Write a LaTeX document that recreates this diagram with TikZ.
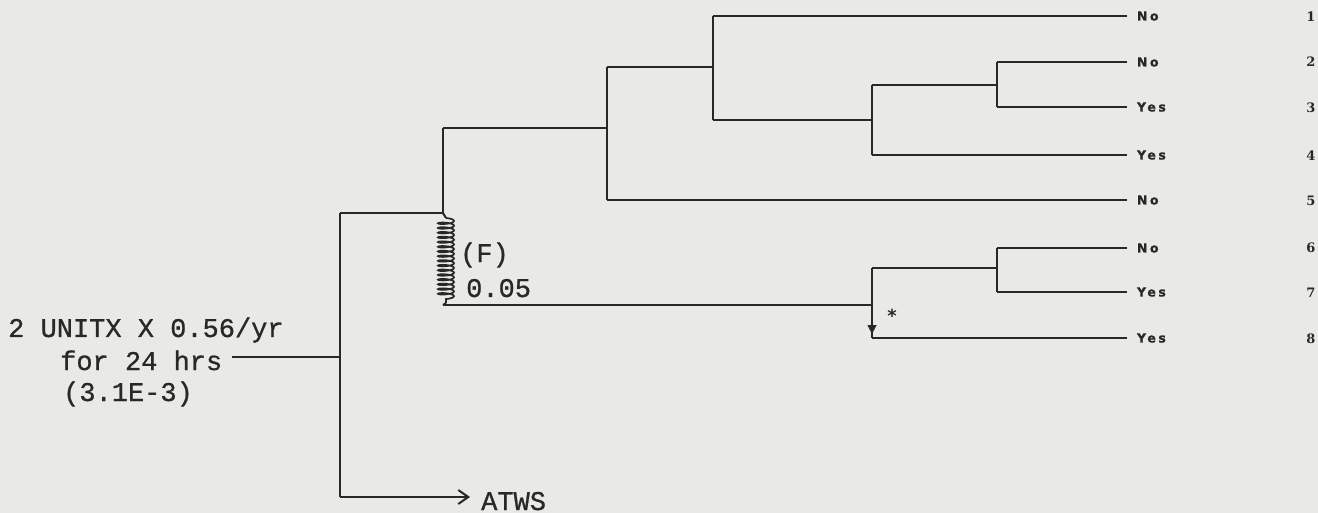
\documentclass[tikz,border=0pt]{standalone}
\usepackage{fontspec}
\newfontfamily\twfont{Liberation Mono}[FakeBold=0.8]
\newfontfamily\lblfont{DejaVu Sans Bold}[LetterSpace=20,FakeBold=1]
\newfontfamily\numfont{DejaVu Serif Bold}
\newfontfamily\starfont{DejaVu Sans Bold}
\usetikzlibrary{arrows.meta,decorations.pathmorphing}
\definecolor{bg}{RGB}{233,233,230}
\definecolor{ink}{RGB}{40,40,40}
\begin{document}
\begin{tikzpicture}[x=1pt,y=-1pt,
  branch/.style={draw=ink,line width=2pt},
  tw/.style={font=\twfont\fontsize{27}{32}\selectfont,text=ink,inner sep=0pt,anchor=base west},
  lbl/.style={font=\lblfont\fontsize{12.5}{14}\selectfont,text=ink,inner sep=0pt,outer xsep=10pt,anchor=west},
  num/.style={font=\numfont\fontsize{13}{16}\selectfont,text=ink,inner sep=0pt},
  springline/.style={draw=ink,line width=1.7pt,decorate,decoration={coil,amplitude=8pt,segment length=4.7pt,aspect=0.22}}]
\fill[bg] (0,0) rectangle (1318,513);
\useasboundingbox (0,0) rectangle (1318,513);

% input text
\node[tw] (in1) at (8,337) {2 UNITX X 0.56/yr};
\node[tw] (in2) at (60,370) {for 24 hrs};
\node[tw] (in3) at (63,401) {(3.1E-3)};

% junction coordinates
\coordinate (A) at (340,357);
\coordinate (Atop) at (340,213);
\coordinate (Abot) at (340,497);
\coordinate (Bj) at (443,213);
\coordinate (Btop) at (443,128);
\coordinate (Bz) at (446,218);
\coordinate (Bzb) at (446,303);
\coordinate (Bbot) at (443,305);
\coordinate (Cj) at (607,128);
\coordinate (Ctop) at (607,67);
\coordinate (Cbot) at (607,200);
\coordinate (Dj) at (713,67);
\coordinate (Dtop) at (713,16);
\coordinate (Dbot) at (713,120);
\coordinate (Ej) at (872,120);
\coordinate (Etop) at (872,85);
\coordinate (Ebot) at (872,155);
\coordinate (Fj) at (997,85);
\coordinate (Ftop) at (997,62);
\coordinate (Fbot) at (997,107);
\coordinate (Gj) at (872,305);
\coordinate (Gtop) at (872,268);
\coordinate (Gbot) at (872,338);
\coordinate (Garr) at (872,334);
\coordinate (Hj) at (997,268);
\coordinate (Htop) at (997,248);
\coordinate (Hbot) at (997,292);

% end labels
\node[lbl] (l1) at (1127,16) {No};
\node[lbl] (l2) at (1127,62) {No};
\node[lbl] (l3) at (1127,107) {Yes};
\node[lbl] (l4) at (1127,155) {Yes};
\node[lbl] (l5) at (1127,200) {No};
\node[lbl] (l6) at (1127,248) {No};
\node[lbl] (l7) at (1127,292) {Yes};
\node[lbl] (l8) at (1127,338) {Yes};
\node[num] (n1) at (1311,17) {1};
\node[num] (n2) at (1311,62) {2};
\node[num] (n3) at (1311,108) {3};
\node[num] (n4) at (1311,156) {4};
\node[num] (n5) at (1311,201) {5};
\node[num] (n6) at (1311,248) {6};
\node[num] (n7) at (1311,293) {7};
\node[num] (n8) at (1311,339) {8};

% other labels
\node[tw] (f) at (460,262) {(F)};
\node[tw] (p) at (466,297) {0.05};
\node[tw,inner xsep=11pt] (atws) at (470,510) {ATWS};
\node[font=\starfont\fontsize{18}{20}\selectfont,text=ink,inner sep=0pt,anchor=base] (star) at (892,322) {*};

% tree
\draw[branch] ([xshift=10pt]in2.east |- A) -- (A);
\draw[branch] (Atop) -- (Abot);
\draw[branch,-{Straight Barb[length=10pt,width=14pt]}] (Abot) -- (Abot -| atws.west);
\draw[branch] (Atop) -- (Bj);
\draw[branch] (Btop) -- (Bj);
\draw[branch] (Bj) -- (Bz);
\draw[springline] (Bz) -- (Bzb);
\draw[branch] (Bzb) -- (Bbot);
\draw[branch] (Btop) -- (Cj);
\draw[branch] (Ctop) -- (Cbot);
\draw[branch] (Cbot) -- (l5.west);
\draw[branch] (Ctop) -- (Dj);
\draw[branch] (Dtop) -- (Dbot);
\draw[branch] (Dtop) -- (l1.west);
\draw[branch] (Dbot) -- (Ej);
\draw[branch] (Etop) -- (Ebot);
\draw[branch] (Ebot) -- (l4.west);
\draw[branch] (Etop) -- (Fj);
\draw[branch] (Ftop) -- (Fbot);
\draw[branch] (Ftop) -- (l2.west);
\draw[branch] (Fbot) -- (l3.west);
\draw[branch] (Bbot) -- (Gj);
\draw[branch] (Gtop) -- (Gbot);
\draw[draw=ink,fill=ink,line width=1pt,-{Triangle[length=9pt,width=9pt,fill=ink]}] (Gj) -- (Garr);
\draw[branch] (Gbot) -- (l8.west);
\draw[branch] (Gtop) -- (Hj);
\draw[branch] (Htop) -- (Hbot);
\draw[branch] (Htop) -- (l6.west);
\draw[branch] (Hbot) -- (l7.west);
\end{tikzpicture}
\end{document}
